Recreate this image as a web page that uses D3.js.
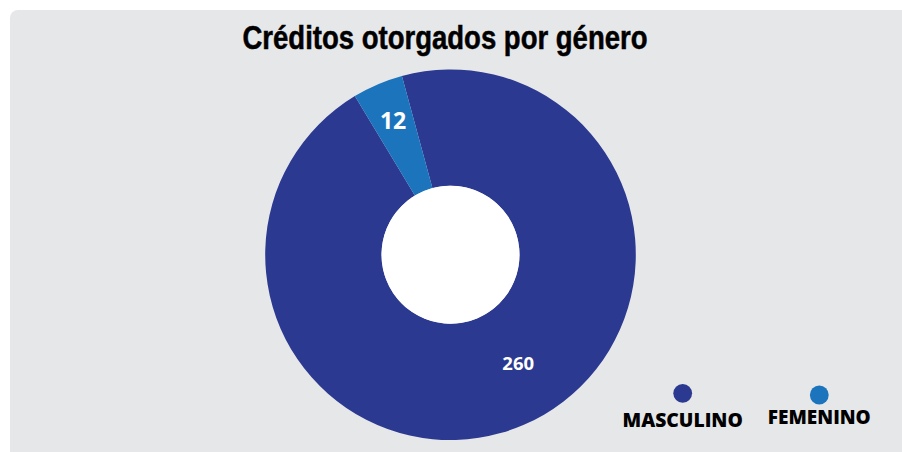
<!DOCTYPE html>
<html>
<head>
<meta charset="utf-8">
<script src="https://cdn.jsdelivr.net/npm/d3@7"></script>
<style>
  html, body { margin: 0; padding: 0; background: #ffffff; }
  svg { display: block; }
</style>
</head>
<body>
<svg id="chart" width="902" height="452"></svg>
<script>
// ---- data ----
const title = "Créditos otorgados por género";
const categories = ["MASCULINO", "FEMENINO"];
const values = [260, 12];
const colors = ["#2b3990", "#1c75bc"];

// ---- layout ----
const svg = d3.select("#chart");
const cx = 450.5, cy = 254.7;
const outerR = 185.3, innerR = 69;

svg.append("rect")
  .attr("x", 10).attr("y", 10)
  .attr("width", 902).attr("height", 452)
  .attr("rx", 8).attr("ry", 8)
  .attr("fill", "#e6e7e8");

svg.append("text")
  .attr("x", 242.5).attr("y", 49)
  .attr("textLength", 405)
  .attr("lengthAdjust", "spacingAndGlyphs")
  .attr("font-family", "'Liberation Sans Narrow', 'Liberation Sans', Arial, sans-serif")
  .attr("font-weight", 700)
  .attr("font-size", 32.5)
  .attr("fill", "#000")
  .attr("stroke", "#000")
  .attr("stroke-width", 0.5)
  .text(title);

const rows = categories.map((c, i) => ({ cat: c, value: values[i], color: colors[i] }));

const start = -15.2 * Math.PI / 180;
const pie = d3.pie().sort(null).value(d => d.value)
  .startAngle(start).endAngle(start + 2 * Math.PI);
const arcs = pie(rows);

const arc = d3.arc().innerRadius(innerR).outerRadius(outerR);

const g = svg.append("g").attr("transform", `translate(${cx},${cy})`);
g.selectAll("path.slice").data(arcs).enter().append("path")
  .attr("class", "slice")
  .attr("d", arc)
  .attr("fill", d => d.data.color);

// inner white hole
g.append("circle").attr("r", innerR).attr("fill", "#ffffff");

// value labels
const labelStyle = [
  { r: 128, shift: -8.8, size: 18.5 },
  { r: 146, shift: 0, size: 23 }
];
g.selectAll("text.val").data(arcs).enter().append("text")
  .attr("class", "val")
  .each(function(d, i) {
    const st = labelStyle[i];
    const mid = (d.startAngle + d.endAngle) / 2 + st.shift * Math.PI / 180;
    const la = d3.arc().innerRadius(st.r).outerRadius(st.r)
      .startAngle(mid).endAngle(mid);
    const [x, y] = la.centroid();
    d3.select(this)
      .attr("x", x).attr("y", y)
      .attr("dy", "0.36em")
      .attr("font-size", st.size);
  })
  .attr("text-anchor", "middle")
  .attr("font-family", "'Open Sans', sans-serif")
  .attr("font-weight", 700)
  .attr("fill", "#ffffff")
  .text(d => d.data.value);

// legend
const legendX = d3.scalePoint().domain(categories).range([682.7, 819.3]);
const legendDotY = [393.3, 395];
const legendTextY = [426.7, 424];
const legendSize = [19.3, 19];
const lg = svg.append("g");
rows.forEach((d, i) => {
  lg.append("circle")
    .attr("cx", legendX(d.cat)).attr("cy", legendDotY[i])
    .attr("r", 9.4).attr("fill", d.color);
  lg.append("text")
    .attr("x", legendX(d.cat)).attr("y", legendTextY[i])
    .attr("text-anchor", "middle")
    .attr("font-family", "'Open Sans', sans-serif")
    .attr("font-weight", 800)
    .attr("font-size", legendSize[i])
    .attr("fill", "#000")
    .text(d.cat);
});
</script>
</body>
</html>
